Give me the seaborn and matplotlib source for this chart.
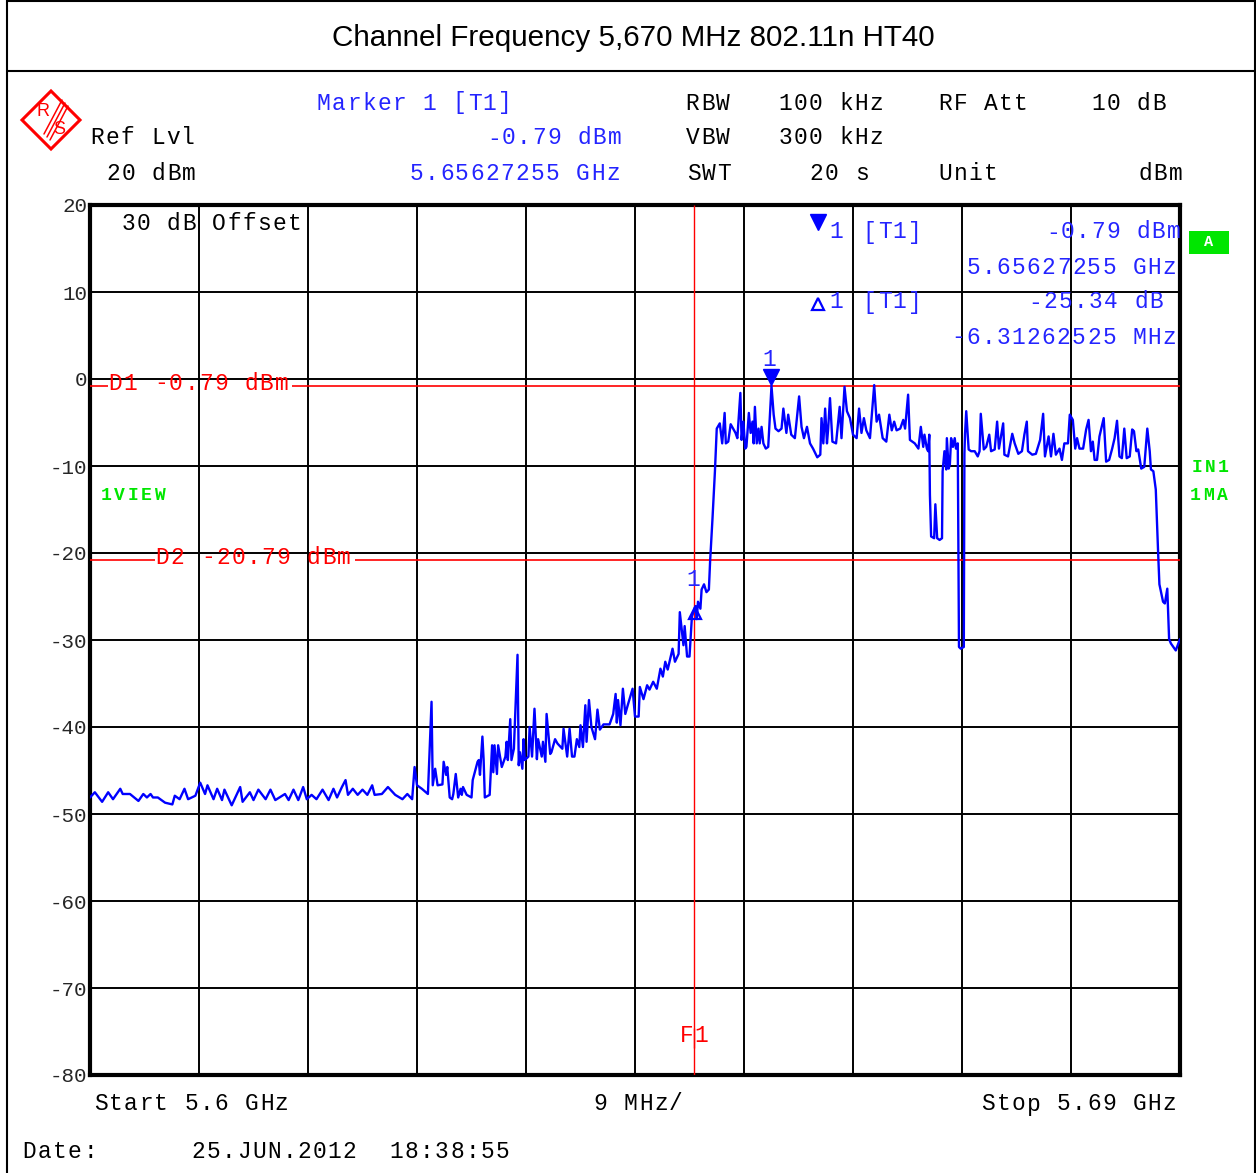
import matplotlib
matplotlib.use("Agg")
import matplotlib.pyplot as plt
import seaborn as sns
import pandas as pd
from matplotlib.patches import Polygon, Rectangle

# trace (offset from 5.6 GHz start, MHz)
freq_offset_mhz = [
    0.0, 0.4, 1.0, 1.5, 1.9, 2.5, 2.7, 3.3, 4.0, 4.4, 4.7, 5.0, 5.2, 5.6, 6.2, 6.8,
    7.0, 7.4, 7.8, 8.1, 8.7, 9.1, 9.5, 9.7, 10.2, 10.5, 10.9, 11.1, 11.7, 12.4, 12.6,
    13.2, 13.5, 13.9, 14.5, 14.9, 15.3, 16.1, 16.4, 16.8, 17.2, 17.6, 17.9, 18.3, 18.7,
    19.2, 19.7, 20.1, 20.4, 20.8, 21.1, 21.3, 21.7, 22.1, 22.5, 22.9, 23.3, 23.5, 24.1,
    24.6, 25.2, 25.8, 26.2, 26.6, 26.8,
    27.0, 27.4, 27.9, 28.2, 28.3, 28.5, 28.7, 29.1, 29.2, 29.4, 29.5, 29.7, 29.9, 30.0,
    30.2, 30.4, 30.6, 30.7, 30.8, 31.1, 31.5, 31.6, 32.0, 32.1, 32.2, 32.4, 32.5, 32.6,
    33.0, 33.2, 33.3, 33.4, 33.6, 33.7, 34.0, 34.3, 34.4, 34.5, 34.7, 34.8, 35.0, 35.3,
    35.4, 35.5, 35.7, 35.8, 35.9, 36.2, 36.3, 36.5, 36.7, 36.9, 37.0, 37.3, 37.4, 37.6,
    37.7, 38.0, 38.1, 38.4, 38.6, 39.0, 39.1, 39.4, 39.6, 39.8, 40.0, 40.2, 40.4, 40.5,
    40.7, 40.9, 41.0, 41.2, 41.4, 41.7, 41.9, 42.1, 42.4, 42.9, 43.2, 43.4, 43.5, 43.6,
    43.8, 44.0, 44.2, 44.4, 44.8, 45.0, 45.3,
    45.4, 45.7, 46.0, 46.2, 46.5, 46.8, 47.1, 47.3, 47.5, 47.7, 48.1, 48.3, 48.6, 48.7,
    49.0, 49.1, 49.3, 49.5, 49.7, 50.0, 50.1, 50.2, 50.4, 50.5, 50.7, 50.9, 51.1, 51.2,
    51.4, 51.6, 51.75,
    52.0, 52.2, 52.4, 52.5, 52.7, 52.9, 53.3, 53.45, 53.7, 53.8, 53.95, 54.1, 54.2, 54.4,
    54.55, 54.7, 54.8, 54.9, 55.05, 55.2, 55.3, 55.45, 55.6, 55.8, 56.0, 56.27, 56.45,
    56.6, 56.85, 57.1, 57.25, 57.5, 57.65, 57.9, 58.2, 58.55, 58.75, 58.95, 59.2, 59.45,
    59.7, 60.05, 60.3, 60.4, 60.55, 60.7, 60.85, 60.95, 61.1, 61.3, 61.6, 61.9, 62.05,
    62.3, 62.5, 62.75, 63.0, 63.3, 63.5, 63.7, 63.9, 64.1, 64.4, 64.75, 64.95, 65.15,
    65.45, 65.75, 66.0, 66.2, 66.4, 66.6, 66.9, 67.15, 67.3, 67.55, 67.7, 68.1, 68.4,
    68.6, 68.8, 68.9, 69.1, 69.2, 69.3, 69.35, 69.45, 69.7, 69.8, 69.95, 70.15, 70.35,
    70.4, 70.55, 70.7, 70.75, 70.9, 71.0, 71.1, 71.25, 71.4, 71.5, 71.65, 71.75, 71.9,
    72.15, 72.2, 72.25, 72.35, 72.55, 72.75, 73.05, 73.3, 73.45, 73.55, 73.8, 74.0,
    74.25, 74.4, 74.7, 74.9, 75.05, 75.4, 75.5, 75.8, 76.15, 76.35, 76.65, 76.95, 77.15,
    77.35, 77.45, 77.8, 78.1, 78.45, 78.7, 78.85, 79.15, 79.35, 79.55, 79.75, 80.05,
    80.25, 80.45, 80.75, 80.9, 81.15, 81.35, 81.5, 81.7, 82.0, 82.25, 82.45, 82.65, 82.8,
    82.95, 83.15, 83.35, 83.5, 83.7, 83.9, 84.15, 84.4, 84.6, 84.8, 85.0, 85.2, 85.4,
    85.6, 85.85, 86.05, 86.2, 86.4, 86.55, 86.8, 87.05, 87.3, 87.5, 87.6, 87.8, 88.0,
    88.2, 88.3, 88.6, 88.75, 88.95, 89.1, 89.25, 89.65, 90.0,
]
level_dbm = [
    -48.1, -47.5, -48.6, -47.5, -48.3, -47.1, -47.7, -47.7, -48.5, -47.7, -48.1, -47.7,
    -48.1, -48.1, -48.7, -48.9, -47.9, -48.3, -47.1, -48.3, -47.9, -46.4, -47.7, -46.7,
    -48.3, -47.1, -48.4, -47.2, -49.0, -46.9, -48.6, -47.5, -48.4, -47.2, -48.3, -47.2,
    -48.4, -47.7, -48.4, -47.2, -48.4, -46.9, -48.3, -47.8, -48.3, -47.2, -48.4, -47.1,
    -48.1, -46.9, -46.1, -47.8, -47.1, -47.8, -47.2, -47.8, -46.7, -47.8, -47.7, -46.9,
    -47.8, -48.3, -47.7, -48.3, -44.6,
    -46.7, -47.1, -47.7, -37.1, -46.7, -44.8, -46.7, -46.6, -44.0, -45.5, -44.6, -48.1,
    -48.3, -47.7, -45.4, -48.1, -47.1, -47.8, -46.9, -47.8, -48.1, -46.1, -44.0, -43.8,
    -45.5, -41.1, -43.7, -48.1, -47.8, -42.1, -45.2, -42.1, -45.4, -42.1, -44.6, -43.4,
    -41.7, -43.8, -39.1, -43.8, -42.5, -31.7, -44.4, -42.9, -44.8, -41.4, -43.8, -43.4,
    -40.0, -43.4, -37.9, -43.7, -41.4, -43.4, -41.7, -44.0, -38.5, -43.1, -42.9, -41.4,
    -41.9, -42.5, -40.2, -43.4, -40.2, -43.4, -43.4, -41.4, -42.3, -39.8, -42.3, -37.5,
    -41.7, -36.9, -40.0, -41.4, -38.0, -40.3, -39.7, -39.7, -38.5, -36.2, -39.5, -36.9,
    -39.8, -35.6, -38.5, -37.5, -35.6, -38.8, -38.8,
    -35.4, -36.8, -35.2, -35.7, -34.8, -35.6, -33.3, -34.2, -32.5, -33.4, -31.0, -32.5,
    -31.6, -26.8, -30.6, -28.4, -31.9, -31.9, -27.3, -26.1, -27.6, -25.6, -26.4, -24.2,
    -23.6, -24.5, -24.2, -21.0, -16.0, -10.6, -5.7,
    -5.1, -7.4, -3.9, -7.4, -7.2, -5.2, -6.2, -6.8, -1.6, -7.0, -4.9, -8.0, -7.8, -3.9,
    -6.2, -4.9, -7.4, -3.2, -7.4, -5.7, -7.4, -5.5, -7.4, -8.0, -7.8, -0.79, -4.1,
    -5.7, -6.0, -5.7, -3.4, -6.2, -4.1, -6.4, -6.8, -2.0, -5.5, -6.8, -5.5, -7.4,
    -8.0, -9.0, -8.7, -4.5, -7.4, -3.4, -7.4, -5.7, -2.2, -7.2, -7.4, -3.2, -6.8,
    -0.9, -3.7, -4.5, -6.4, -6.8, -3.4, -6.2, -4.5, -5.9, -6.8, -0.7, -4.9, -4.1,
    -6.8, -7.2, -4.1, -5.9, -4.9, -5.9, -5.7, -4.7, -5.7, -1.8, -7.0, -7.4, -8.0,
    -5.5, -7.8, -6.4, -8.0, -8.3, -6.4, -13.3, -18.1, -18.3, -14.4, -18.3, -18.5, -18.3,
    -10.6, -8.3, -10.4, -6.8, -10.3, -9.8, -6.8, -7.8, -6.8, -8.0, -7.4, -30.8, -31.0,
    -30.8, -8.6, -6.3, -3.7, -8.1, -8.3, -8.3, -8.9, -8.3, -4.0, -8.1, -7.8,
    -6.4, -8.3, -8.1, -4.9, -8.0, -5.1, -8.7, -8.9, -6.3, -7.4, -8.6, -8.3, -6.4,
    -4.9, -8.3, -8.7, -8.6, -7.0, -4.0, -8.9, -6.6, -8.9, -6.3, -8.7, -8.0,
    -9.3, -7.4, -7.4, -4.1, -4.7, -8.0, -6.8, -8.0, -8.0, -5.8, -4.7, -8.3, -7.2,
    -9.3, -9.3, -6.6, -5.7, -4.5, -9.5, -9.3, -8.0, -6.8, -4.8, -8.9, -9.1, -5.7,
    -9.1, -8.9, -5.8, -6.0, -8.3, -8.1, -10.3, -10.1, -5.7, -8.3, -10.4, -10.6, -12.7,
    -20.2, -23.6, -25.6, -25.8, -24.1, -29.9, -30.4, -31.2, -29.9,
]

y_ticks = [20, 10, 0, -10, -20, -30, -40, -50, -60, -70, -80]
x_grid_mhz = [0, 9, 18, 27, 36, 45, 54, 63, 72, 81, 90]

marker1_freq = 56.27   # 5.65627255 GHz
marker1_level = -0.79
delta_freq = 49.96     # -6.31262525 MHz from marker 1
delta_level = -26.13   # -25.34 dB below marker 1
d1_level = -0.79
d2_level = -20.79
f1_freq = 49.9

BLUE = "#0000ff"
TXT_BLUE = "#2424ff"
RED = "#ff0000"
GREEN = "#00e600"

sns.set_style("white")
plt.rcParams["font.family"] = ["Liberation Mono", "DejaVu Sans"]

W, H = 1256, 1173
fig = plt.figure(figsize=(W / 100, H / 100), dpi=100)


def px_rect(l, t, r, b):
    return [l / W, 1 - b / H, (r - l) / W, (b - t) / H]


ax = fig.add_axes(px_rect(90, 205, 1180, 1075))
over = fig.add_axes([0, 0, 1, 1], zorder=5)
over.set_xlim(0, W)
over.set_ylim(H, 0)
over.axis("off")
over.patch.set_alpha(0)

df = pd.DataFrame({"freq": freq_offset_mhz, "level": level_dbm})
sns.lineplot(data=df, x="freq", y="level", ax=ax, color=BLUE, lw=1.7,
             estimator=None, sort=False, zorder=4)

ax.set_xlim(0, 90)
ax.set_ylim(-80, 20)
ax.set_xticks(x_grid_mhz)
ax.set_yticks(y_ticks)
ax.set_yticklabels([str(v) for v in y_ticks], fontsize=15, family="Liberation Mono")
ax.tick_params(axis="x", labelbottom=False, length=0)
ax.tick_params(axis="y", length=0, pad=2)
ax.grid(True, color="black", lw=1.4)
ax.set_xlabel("")
ax.set_ylabel("")
for sp in ax.spines.values():
    sp.set_color("black")
    sp.set_linewidth(3)
for lbl in ax.get_yticklabels():
    lbl.set_va("center_baseline")

# display lines (broken where their labels sit)
ax.hlines(d1_level, 0, 1.5, color=RED, lw=1.2, zorder=3)
ax.hlines(d1_level, 16.7, 90, color=RED, lw=1.2, zorder=3)
ax.hlines(d2_level, 0, 5.4, color=RED, lw=1.2, zorder=3)
ax.hlines(d2_level, 21.9, 90, color=RED, lw=1.2, zorder=3)
ax.vlines(f1_freq, -80, -74.6, color=RED, lw=1.0, zorder=3)
ax.vlines(f1_freq, -76.9, 20, color=RED, lw=1.0, zorder=3)

# markers
ax.plot([marker1_freq], [marker1_level + 1.0], marker="v", ms=11, color=BLUE,
        ls="none", zorder=5, clip_on=False)
ax.plot([delta_freq], [delta_level - 0.8], marker="^", ms=9, mfc="none",
        mec=BLUE, mew=1.6, ls="none", zorder=5)


def mono(x, y, s, color="black", align="left", pitch=15.1, size=16.5, weight="normal"):
    if align == "right":
        x = x - len(s) * pitch
    for i, ch in enumerate(s):
        if ch != " ":
            over.text(x + (i + 0.5) * pitch, y + 2, ch, ha="center", va="center",
                      color=color, fontsize=size, fontweight=weight,
                      family="Liberation Mono")


# frame and title
over.plot([7, 7], [0, H], color="black", lw=1.5)
over.plot([7, W], [1, 1], color="black", lw=1.5)
over.plot([W - 1, W - 1], [0, H], color="black", lw=1.5)
over.plot([7, W], [71, 71], color="black", lw=1.5)
over.text(633, 38, "Channel Frequency 5,670 MHz 802.11n HT40", ha="center",
          va="center", fontsize=21.3, family="Liberation Sans", color="black")

# R&S logo
over.add_patch(Polygon([[22, 120], [51, 91], [80, 120], [51, 149]], closed=True,
                       fill=False, ec=RED, lw=2.2))
for k in range(3):
    over.plot([62 + 3 * k, 44 + 3 * k], [100 + 3 * k, 134 + 3 * k], color=RED, lw=1.1)
over.text(43, 112, "R", color=RED, fontsize=13, ha="center", va="center",
          family="Liberation Sans")
over.text(59, 130, "S", color=RED, fontsize=13, ha="center", va="center",
          family="Liberation Sans")

# header settings
mono(316, 101, "Marker 1 [T1]", color=TXT_BLUE)
mono(685, 101, "RBW")
mono(778, 101, "100 kHz")
mono(938, 101, "RF Att")
mono(1091, 101, "10 dB")
mono(90, 136, "Ref Lvl")
mono(622, 136, "-0.79 dBm", color=TXT_BLUE, align="right")
mono(685, 136, "VBW")
mono(778, 136, "300 kHz")
mono(106, 171, "20 dBm")
mono(409, 171, "5.65627255 GHz", color=TXT_BLUE)
mono(686, 171, "SWT")
mono(809, 171, "20 s")
mono(938, 171, "Unit")
mono(1183, 171, "dBm", align="right")

# inside the graticule
mono(121, 222, "30 dB Offset")
over.plot([818], [222], marker="v", ms=11, color=BLUE, ls="none")
mono(829, 230, "1", color=TXT_BLUE)
mono(862, 230, "[T1]", color=TXT_BLUE)
mono(1181, 230, "-0.79 dBm", color=TXT_BLUE, align="right")
mono(1177, 265, "5.65627255 GHz", color=TXT_BLUE, align="right")
over.plot([818], [304], marker="^", ms=9, mfc="white", mec=BLUE, mew=1.6, ls="none")
mono(829, 300, "1", color=TXT_BLUE)
mono(862, 300, "[T1]", color=TXT_BLUE)
mono(1028, 300, "-25.34 dB", color=TXT_BLUE)
mono(1177, 335, "-6.31262525 MHz", color=TXT_BLUE, align="right")
mono(762, 358, "1", color=TXT_BLUE)
mono(686, 578, "1", color=TXT_BLUE)

mono(108, 381, "D1 -0.79 dBm", color=RED)
mono(155, 555, "D2 -20.79 dBm", color=RED)
mono(679, 1033, "F1", color=RED)

mono(100, 494, "1VIEW", color=GREEN, pitch=13.2, size=13, weight="bold")
mono(1190, 466, "IN1", color=GREEN, pitch=13.2, size=13, weight="bold")
mono(1189, 494, "1MA", color=GREEN, pitch=13.2, size=13, weight="bold")
over.add_patch(Rectangle((1189, 231), 40, 23, color=GREEN, lw=0))
over.text(1209, 242.5, "A", color="white", fontsize=11, fontweight="bold",
          ha="center", va="center", family="Liberation Mono")

# footer
mono(93, 1102, "Start 5.6 GHz")
mono(593, 1102, "9 MHz/")
mono(1177, 1102, "Stop 5.69 GHz", align="right")
mono(22, 1149, "Date:")
mono(191, 1149, "25.JUN.2012")
mono(389, 1149, "18:38:55")

fig.savefig("out.png", dpi=100)
plt.close(fig)
